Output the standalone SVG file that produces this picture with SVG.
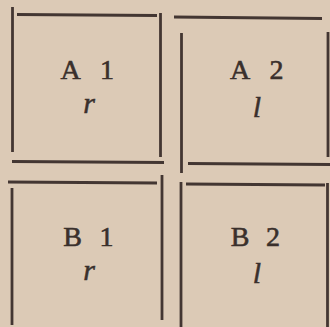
<svg xmlns="http://www.w3.org/2000/svg" width="330" height="327" viewBox="0 0 330 327">
<style>
.ln{stroke:#433632;stroke-width:2.8;stroke-linecap:butt;fill:none}
.cap{font-family:"Liberation Serif","DejaVu Serif",serif;font-size:28px;fill:#3a302c;stroke:#3a302c;stroke-width:0.6;text-anchor:middle}
.it{font-family:"Liberation Serif","DejaVu Serif",serif;font-size:30px;font-style:italic;fill:#3a302c;stroke:#3a302c;stroke-width:0.5;text-anchor:middle}
</style>
<rect width="330" height="327" fill="#dccab6"/>
<g id="connectors"/>
<g id="A1">
<line class="ln" x1="12.5" y1="7" x2="12.5" y2="152"/>
<line class="ln" x1="17" y1="14.5" x2="157" y2="15.5"/>
<line class="ln" x1="160.5" y1="13" x2="160.5" y2="157"/>
<line class="ln" x1="12" y1="161.5" x2="164" y2="162.5"/>
<text class="cap" x="70.5 89 107" y="79">A 1</text>
<text class="it" x="89" y="113">r</text>
</g>
<g id="A2">
<line class="ln" x1="174" y1="17" x2="322" y2="18.5"/>
<line class="ln" x1="181.5" y1="33" x2="181.5" y2="173"/>
<line class="ln" x1="328" y1="32" x2="328" y2="157"/>
<line class="ln" x1="188" y1="163.5" x2="330" y2="164.5"/>
<text class="cap" x="240 258 276.5" y="79">A 2</text>
<text class="it" x="257" y="117">l</text>
</g>
<g id="B1">
<line class="ln" x1="8" y1="182" x2="157" y2="183"/>
<line class="ln" x1="12" y1="188" x2="12" y2="325"/>
<line class="ln" x1="162" y1="175" x2="162" y2="320"/>
<text class="cap" x="72.5 89 106.5" y="246">B 1</text>
<text class="it" x="89" y="280">r</text>
</g>
<g id="B2">
<line class="ln" x1="181" y1="182" x2="181" y2="327"/>
<line class="ln" x1="186" y1="184" x2="325" y2="185"/>
<line class="ln" x1="327.5" y1="183" x2="327.5" y2="327"/>
<text class="cap" x="240 256 273" y="246">B 2</text>
<text class="it" x="257" y="283">l</text>
</g>
</svg>
